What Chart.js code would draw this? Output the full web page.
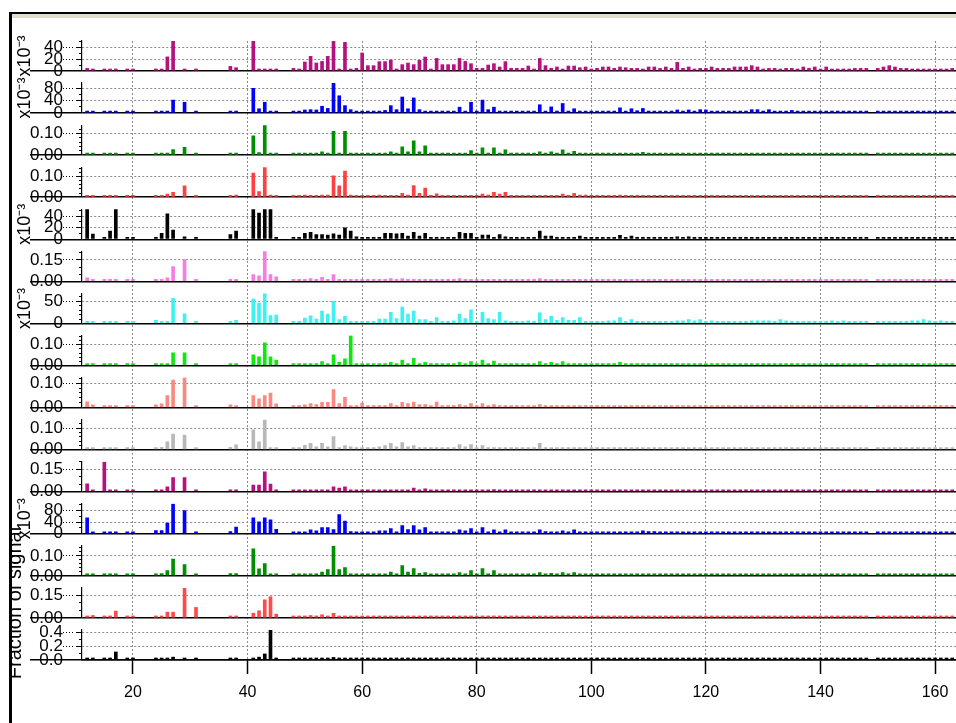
<!DOCTYPE html>
<html>
<head>
<meta charset="utf-8">
<title>Fraction of signal</title>
<script src="https://cdn.jsdelivr.net/npm/chart.js@4.4.1/dist/chart.umd.min.js"></script>
<style>
    html, body { margin: 0; padding: 0; background: #fff; overflow: hidden; }
    body { width: 956px; height: 723px; position: relative; font-family: "Liberation Sans", Arial, sans-serif; }
    #frameTop { position: absolute; left: 9px; top: 12px; width: 947px; height: 2px; background: #000; }
    #frameBand { position: absolute; left: 12px; top: 14px; width: 944px; height: 4px; background: #e2ddcc; }
    #frameLeft { position: absolute; left: 9px; top: 12px; width: 3px; height: 711px; background: #000; z-index: 3; }
    #chartBox { position: absolute; left: 12px; top: 18px; }
    #yTitleClip { position: absolute; left: 12px; top: 0; width: 40px; height: 723px; overflow: hidden; z-index: 2; }
    #yTitle {
        position: absolute; left: 0; top: 0; font-size: 20px; line-height: 1; white-space: nowrap; color: #000;
        transform-origin: 0 0; transform: translate(1.6px, 603px) rotate(-90deg) translate(-50%, -50%);
    }
</style>
</head>
<body>
<div id="frameTop"></div>
<div id="frameBand"></div>
<div id="frameLeft"></div>
<div id="chartBox"><canvas id="msChart" width="950" height="705" style="width:950px;height:705px"></canvas></div>
<div id="yTitleClip"><div id="yTitle">Fraction of signal</div></div>

<script>
// m/z
const mzValues = [12, 13, 15, 16, 17, 19, 20, 24, 25, 26, 27, 29, 31, 37, 38, 41, 42, 43, 44, 45,
    48, 49, 50, 51, 52, 53, 54, 55, 56, 57, 58, 59, 60, 61, 62, 63, 64, 65, 66, 67,
    68, 69, 70, 71, 72, 73, 74, 75, 76, 77, 78, 79, 80, 81, 82, 83, 84, 85, 86, 87,
    88, 89, 90, 91, 92, 93, 94, 95, 96, 97, 98, 99,
    100, 101, 102, 103, 104, 105, 106, 107, 108, 109, 110, 111, 112, 113, 114, 115, 116, 117, 118, 119,
    120, 121, 122, 123, 124, 125, 126, 127, 128, 129, 130, 131, 132, 133, 134, 135, 136, 137, 138, 139,
    140, 141, 142, 143, 144, 145, 146, 147, 148,
    150, 151, 152, 153, 154, 155, 156, 157, 158, 159, 160, 161, 162, 163];

// valeurs par panneau (haut -> bas)
const panel1 = [4.4, 1, 0.5, 0.5, 0.5, 0.5, 0.5, 0.5, 2.7, 23.5, 50, 0.5, 0.5, 7.7, 5.5, 50, 1, 1, 1, 2.7,
    4.4, 2.7, 15, 24.4, 13.3, 16, 24.4, 49.4, 1, 47.8, 1, 4.4, 30, 8.9, 8.9, 15.6, 15.6, 18.3, 3.3, 10.6,
    13.3, 10.6, 17.8, 23.3, 3.3, 21, 10.6, 10.6, 10.6, 21, 16, 12.2, 4.4, 4.4, 10, 12.2, 6.7, 15.6, 4.4, 4.4,
    4.4, 8.3, 2.2, 21, 8.9, 4.4, 6.7, 1, 8.3, 8.3, 5.5, 6.7,
    2.2, 4.4, 6.7, 6.7, 4.4, 6.7, 5.5, 4.4, 4.4, 2.2, 6.7, 6.7, 4.4, 6.7, 4.4, 14.4, 4.4, 6.7, 2.2, 4.4,
    4.4, 6.7, 4.4, 4.4, 4.4, 6.7, 6.7, 6.7, 8.9, 6.7, 3.3, 4.4, 4.4, 2.2, 4.4, 4.4, 2.2, 6.7, 4.4, 6.7,
    2.2, 6.7, 3.3, 3.3, 3.3, 3.3, 4.4, 4.4, 4.4,
    4.4, 6.7, 8.9, 6.7, 4.4, 4.4, 2.2, 3.3, 3.3, 2.2, 2.2, 3.3, 3.3, 4.4];
const panel2 = [1, 1, 1, 1, 1, 1, 1, 1, 1, 6, 42, 35, 1, 5, 1, 80, 14, 35, 1, 1,
    1, 1, 10, 11, 10, 22, 15, 97, 56, 24, 11, 2, 2, 2, 6.5, 6.5, 8.6, 24, 11, 52,
    14, 49, 11, 2, 2, 2, 2, 2, 2, 19, 6.5, 35, 6.5, 42, 11, 19, 2, 2, 2, 2,
    2, 6.5, 2, 27, 6.5, 20, 6.5, 31, 6.5, 14, 2, 2,
    2, 2, 2, 6.5, 6.5, 17, 6.5, 14, 7.6, 15, 6.5, 6.5, 2, 2, 2, 10, 6.5, 10, 6.5, 11,
    10, 2, 2, 2, 2, 2, 2, 6.5, 11, 11, 6.5, 11, 2, 6.5, 2, 8.6, 2, 2, 2, 2,
    2, 6.5, 6.5, 6.5, 2, 6.5, 2, 2, 2,
    2, 2, 6.5, 6.5, 2, 6.5, 2, 6.5, 2, 6.5, 2, 6.5, 2, 2];
const panel3 = [.002, .002, .002, .002, .002, .002, .002, .002, .002, .002, .026, .036, .002, .002, .002, .089, .012, .138, .008, .002,
    .002, .002, .004, .006, .006, .015, .006, .109, .009, .109, .002, .002, .002, .002, .002, .002, .002, .015, .002, .038,
    .015, .066, .015, .043, .002, .002, .002, .002, .002, .009, .002, .021, .002, .034, .009, .034, .009, .025, .002, .002,
    .002, .002, .002, .015, .002, .015, .009, .025, .009, .018, .004, .002,
    .002, .002, .002, .002, .002, .006, .002, .009, .002, .013, .002, .009, .002, .002, .002, .002, .002, .002, .002, .009,
    .002, .009, .002, .009, .002, .002, .002, .002, .002, .002, .002, .002, .002, .009, .002, .002, .002, .002, .002, .002,
    .002, .002, .002, .002, .002, .002, .002, .002, .002,
    .002, .002, .002, .002, .002, .002, .002, .002, .002, .002, .002, .002, .002, .002];
const panel4 = [.002, .002, .002, .002, .002, .002, .002, .002, .002, .015, .023, .055, .002, .002, .01, .116, .027, .144, .01, .002,
    .002, .002, .01, .006, .003, .01, .01, .103, .055, .126, .01, .002, .002, .002, .002, .01, .002, .004, .002, .019,
    .01, .056, .019, .044, .002, .016, .002, .002, .002, .002, .002, .002, .002, .015, .01, .024, .015, .024, .002, .002,
    .002, .002, .002, .002, .002, .002, .002, .015, .002, .019, .01, .01,
    .002, .002, .002, .002, .002, .01, .002, .002, .002, .008, .002, .008, .002, .002, .002, .002, .002, .002, .002, .002,
    .002, .002, .002, .002, .002, .002, .002, .002, .002, .002, .002, .002, .002, .002, .002, .002, .002, .002, .002, .002,
    .002, .002, .002, .002, .002, .002, .002, .002, .002,
    .002, .002, .002, .002, .002, .002, .002, .002, .002, .002, .002, .002, .002, .002];
const panel5 = [52, 9, 1, 14.4, 52, 1, 1, 1, 10.5, 44, 16, 4.4, 1, 8.3, 14.4, 52, 45.5, 52, 52, 1,
    2, 3.3, 10.5, 12, 8.3, 8.3, 7.2, 9.4, 7.2, 20, 14.4, 4.4, 1, 3.3, 1, 1, 10.5, 10.5, 9.4, 10.5,
    5.5, 12, 5.5, 10.5, 3.3, 1, 1, 1, 1, 12, 10.5, 10.5, 1, 7.2, 7.2, 1, 8.3, 4.4, 1, 3.3,
    1, 3.3, 1, 14.4, 5.5, 5.5, 3.3, 3.3, 3.3, 1, 5.5, 3.3,
    1, 1, 3.3, 3.3, 3.3, 6.7, 3.3, 5.5, 1, 3.3, 1, 3.3, 1, 3.3, 1, 4.4, 3.3, 4.4, 3.3, 3.3,
    1, 3.3, 1, 3.3, 1, 3.3, 3.3, 3.3, 3.3, 3.3, 3.3, 1, 3.3, 1, 3.3, 1, 3.3, 1, 3.3, 1,
    3.3, 1, 1, 3.3, 1, 1, 1, 3.3, 1,
    3.3, 3.3, 3.3, 1, 3.3, 1, 3.3, 3.3, 3.3, 1, 3.3, 1, 3.3, 1];
const panel6 = [.025, .01, .003, .003, .003, .003, .003, .003, .01, .025, .103, .152, .003, .01, .01, .047, .039, .21, .047, .032,
    .003, .007, .015, .019, .009, .028, .005, .047, .009, .005, .003, .009, .003, .003, .003, .003, .003, .019, .003, .019,
    .003, .009, .003, .009, .003, .009, .003, .003, .003, .019, .003, .014, .003, .009, .003, .009, .003, .003, .003, .003,
    .003, .003, .003, .019, .003, .009, .003, .009, .003, .009, .003, .003,
    .003, .003, .003, .003, .003, .009, .003, .009, .003, .009, .003, .003, .003, .003, .003, .009, .003, .003, .003, .003,
    .003, .003, .003, .003, .003, .003, .003, .003, .003, .003, .003, .003, .003, .003, .003, .003, .003, .003, .003, .003,
    .003, .003, .003, .003, .003, .003, .003, .003, .003,
    .003, .003, .003, .003, .003, .003, .003, .003, .003, .003, .003, .003, .003, .003];
const panel7 = [2, 2, 2, 2, 2, 2, 2, 7, 2, 4, 57, 22, 2, 3, 7, 55, 46, 68, 18, 19,
    2, 2, 12, 17, 10, 28, 21, 50, 9, 16, 1, 1, 2, 3, 3, 10, 10, 25, 11, 37,
    21, 28, 9, 9, 3, 13, 3, 3, 6, 21, 11, 31, 4.5, 25, 11, 9, 25, 6, 3, 3,
    1, 6, 4.5, 24, 9, 16, 7, 13, 7, 7, 13, 1,
    2, 1, 3, 6, 6, 13, 4.5, 9, 4.5, 4.5, 3, 1, 1, 3, 3, 6, 6, 9, 6, 9,
    3, 6, 3, 3, 1, 3, 3, 3, 6, 6, 6, 6, 3, 9, 6, 3, 3, 1, 3, 3,
    3, 3, 6, 3, 6, 3, 3, 3, 3,
    1, 3, 3, 3, 3, 3, 6, 6, 9, 6, 3, 6, 3, 3];
const panel8 = [.002, .002, .002, .002, .002, .002, .002, .002, .002, .002, .061, .061, .002, .002, .002, .052, .042, .11, .042, .026,
    .002, .004, .006, .008, .008, .019, .002, .052, .015, .032, .145, .008, .002, .002, .002, .002, .008, .015, .008, .026,
    .008, .035, .008, .015, .002, .002, .002, .002, .002, .015, .002, .019, .004, .026, .008, .021, .008, .008, .002, .002,
    .002, .002, .002, .019, .002, .015, .008, .019, .008, .008, .008, .002,
    .002, .002, .002, .002, .002, .015, .002, .008, .002, .008, .002, .008, .002, .002, .002, .008, .002, .008, .002, .008,
    .002, .008, .002, .002, .002, .002, .002, .002, .008, .002, .002, .008, .002, .002, .002, .002, .002, .002, .002, .002,
    .002, .002, .002, .002, .002, .002, .002, .002, .002,
    .002, .002, .002, .002, .002, .002, .002, .002, .002, .002, .002, .002, .002, .002];
const panel9 = [.024, .011, .003, .003, .003, .003, .003, .011, .015, .049, .113, .123, .003, .011, .003, .049, .036, .049, .059, .015,
    .003, .004, .011, .016, .012, .022, .022, .074, .016, .042, .003, .003, .018, .008, .003, .008, .008, .016, .003, .022,
    .016, .023, .012, .012, .003, .023, .008, .003, .003, .012, .008, .016, .003, .016, .008, .012, .003, .003, .003, .003,
    .003, .008, .003, .012, .008, .008, .008, .008, .008, .008, .003, .003,
    .003, .003, .003, .003, .003, .008, .003, .003, .003, .003, .003, .003, .003, .003, .003, .008, .003, .008, .003, .003,
    .003, .003, .003, .003, .003, .003, .003, .003, .008, .008, .003, .008, .003, .003, .003, .003, .003, .003, .003, .003,
    .003, .003, .003, .003, .003, .003, .003, .008, .003,
    .003, .003, .003, .003, .003, .003, .003, .003, .003, .003, .003, .003, .003, .003];
const panel10 = [.003, .006, .003, .003, .003, .003, .003, .003, .011, .036, .072, .067, .003, .011, .022, .092, .036, .139, .003, .003,
    .003, .003, .02, .029, .013, .029, .013, .06, .003, .019, .013, .003, .003, .003, .006, .013, .019, .029, .013, .033,
    .013, .019, .006, .006, .003, .003, .003, .006, .006, .024, .013, .024, .003, .019, .006, .003, .003, .003, .003, .003,
    .003, .006, .003, .029, .006, .006, .006, .006, .006, .006, .003, .003,
    .003, .003, .003, .003, .003, .006, .003, .003, .003, .006, .003, .003, .003, .003, .003, .006, .003, .006, .003, .006,
    .003, .003, .003, .003, .003, .003, .003, .003, .006, .006, .003, .003, .003, .003, .003, .003, .003, .003, .003, .003,
    .003, .003, .003, .003, .003, .003, .003, .003, .003,
    .003, .003, .003, .003, .003, .003, .003, .003, .003, .003, .003, .003, .003, .003];
const panel11 = [.053, .004, .2, .004, .004, .004, .004, .004, .004, .033, .095, .095, .004, .004, .004, .044, .044, .133, .051, .004,
    .004, .004, .004, .004, .004, .011, .004, .033, .024, .033, .004, .004, .004, .004, .004, .004, .004, .004, .004, .011,
    .004, .024, .011, .02, .004, .004, .004, .004, .004, .004, .004, .004, .004, .011, .004, .015, .004, .004, .004, .004,
    .004, .004, .004, .004, .004, .004, .004, .004, .004, .006, .006, .004,
    .004, .004, .004, .004, .004, .004, .004, .004, .004, .006, .004, .006, .004, .004, .004, .004, .004, .004, .004, .004,
    .004, .004, .004, .004, .004, .004, .004, .004, .004, .004, .004, .004, .004, .004, .004, .004, .004, .004, .004, .004,
    .004, .004, .004, .004, .004, .004, .004, .004, .004,
    .004, .004, .004, .004, .004, .004, .004, .004, .004, .004, .004, .004, .004, .004];
const panel12 = [55, 7, 2, 2, 2, 2, 2, 11.4, 11.4, 36.6, 103, 80, 2, 8, 23, 55, 41, 55, 48, 15,
    2, 2, 7, 13.5, 10, 21, 21, 14.6, 66, 44, 8, 2, 2, 2, 5.6, 10, 10, 18, 3, 28,
    14.6, 28, 13.5, 21, 2, 2, 5.6, 2, 5.6, 13.5, 10, 18, 2, 21, 5.6, 13.5, 2, 13.5, 2, 2,
    2, 2, 2, 13.5, 8, 5.6, 5.6, 10, 5.6, 13.5, 2, 5.6,
    2, 2, 2, 5.6, 5.6, 5.6, 2, 5.6, 5.6, 10, 8, 8, 2, 5.6, 2, 5.6, 2, 2, 2, 2,
    2, 5.6, 2, 5.6, 2, 5.6, 2, 5.6, 2, 2, 2, 2, 2, 2, 2, 5.6, 2, 2, 2, 2,
    2, 2, 2, 2, 2, 2, 2, 2, 2,
    2, 2, 2, 2, 2, 2, 2, 2, 2, 2, 2, 2, 2, 2];
const panel13 = [.002, .002, .002, .002, .002, .002, .002, .002, .011, .027, .084, .056, .002, .011, .011, .135, .035, .061, .002, .002,
    .002, .002, .006, .006, .006, .019, .031, .15, .031, .042, .01, .002, .006, .002, .002, .002, .01, .019, .01, .052,
    .019, .037, .013, .016, .002, .01, .002, .002, .002, .016, .01, .026, .002, .037, .01, .026, .01, .01, .002, .002,
    .002, .002, .002, .016, .002, .013, .002, .016, .01, .016, .01, .002,
    .002, .002, .002, .002, .002, .002, .002, .002, .002, .008, .002, .002, .002, .002, .002, .008, .002, .002, .002, .002,
    .002, .002, .002, .002, .002, .002, .002, .002, .002, .002, .002, .002, .002, .002, .002, .002, .002, .002, .002, .002,
    .002, .002, .002, .002, .002, .002, .002, .002, .002,
    .002, .002, .002, .002, .002, .002, .002, .002, .002, .002, .002, .002, .002, .002];
const panel14 = [.003, .016, .003, .009, .045, .003, .003, .003, .009, .038, .038, .197, .069, .009, .009, .031, .047, .119, .139, .025,
    .003, .003, .009, .016, .012, .021, .012, .03, .003, .003, .003, .012, .012, .003, .003, .003, .012, .012, .012, .003,
    .012, .003, .003, .003, .003, .012, .003, .003, .003, .012, .012, .012, .003, .003, .012, .003, .012, .003, .003, .003,
    .003, .003, .003, .012, .003, .003, .003, .003, .003, .003, .003, .003,
    .003, .003, .003, .003, .003, .003, .003, .003, .003, .003, .003, .003, .003, .003, .003, .003, .003, .003, .003, .003,
    .003, .003, .003, .003, .003, .003, .003, .003, .003, .003, .003, .003, .003, .003, .003, .003, .003, .003, .003, .003,
    .003, .003, .003, .003, .003, .003, .003, .003, .003,
    .003, .003, .003, .003, .003, .003, .003, .003, .003, .003, .003, .003, .003, .003];
const panel15 = [.023, .005, .005, .018, .115, .005, .005, .005, .005, .023, .041, .018, .005, .005, .018, .023, .041, .087, .43, .023,
    .005, .005, .01, .01, .005, .018, .005, .037, .005, .012, .005, .005, .005, .005, .005, .005, .005, .005, .005, .005,
    .005, .005, .005, .005, .005, .005, .005, .005, .005, .005, .005, .005, .005, .005, .005, .005, .005, .005, .005, .005,
    .005, .005, .005, .005, .005, .005, .005, .005, .005, .005, .005, .005,
    .005, .005, .005, .005, .005, .005, .005, .005, .005, .005, .005, .005, .005, .005, .005, .005, .005, .005, .005, .005,
    .005, .005, .005, .005, .005, .005, .005, .005, .005, .005, .005, .005, .005, .005, .005, .005, .005, .005, .005, .005,
    .005, .005, .005, .005, .005, .005, .005, .005, .005,
    .005, .005, .005, .005, .005, .005, .005, .005, .005, .005, .005, .005, .005, .005];

const panels = [panel1, panel2, panel3, panel4, panel5, panel6, panel7, panel8,
    panel9, panel10, panel11, panel12, panel13, panel14, panel15];
const panelColors = ["#b5127f", "#0000ff", "#008f00", "#ff4040", "#000000", "#f37fe0", "#3ff2f2", "#12e612",
    "#fa8a80", "#b8b8b8", "#b5127f", "#0000ff", "#008f00", "#ff4a4a", "#000000"];
const minorSteps = [10, 20, 0.02, 0.02, 10, 0.05, 10, 0.02, 0.02, 0.02, 0.05, 20, 0.02, 0.05, 0.1];
const majorSteps = [20, 40, 0.1, 0.1, 20, 0.15, 50, 0.1, 0.1, 0.1, 0.15, 40, 0.1, 0.15, 0.2];
const labelDigits = [0, 0, 2, 2, 0, 2, 0, 2, 2, 2, 2, 0, 2, 2, 1];
const scaledPanels = [true, true, false, false, true, false, true, false, false, false, false, true, false, false, false];
const mzMin = 11.1;
const mzMax = 164.7;

Chart.defaults.font.family = '"Liberation Sans", Arial, Helvetica, sans-serif';
Chart.defaults.font.size = 16;
Chart.defaults.color = "#000";

const isMultiple = (v, step) => Math.abs(v / step - Math.round(v / step)) < 1e-6;
const tickValue = c => (c.tick ? c.tick.value : 0);

panels.forEach((p, k) => {
    if (p.length !== mzValues.length) console.error("panel" + (k + 1) + " : " + p.length + " valeurs");
});

// Axes : x en bas, un axe y empilé par panneau avec un petit axe vide entre deux
const scales = {
    x: {
        type: "linear", position: "bottom", min: mzMin, max: mzMax, offset: false,
        afterFit: s => { s.height = 63; },
        border: { color: "#000", width: 1.5, dash: c => (c.type === "tick" ? [2, 2] : []) },
        grid: { offset: false, color: "#8c8c8c", lineWidth: 1, tickColor: "#000", tickWidth: 1.5, tickLength: 14 },
        ticks: { stepSize: 20, includeBounds: false, padding: 9, maxRotation: 0, autoSkip: false }
    }
};

// trait de graduation long (52 px) : le zéro traverse l'étiquette, le reste est masqué par le tiret
const TICK_ZERO = [];
const TICK_MAJOR = [0, 33, 1, 2, 1, 2, 1, 2, 1, 3, 6, 0];
const TICK_MINOR = [0, 49, 3, 0];

let order = 100;
panels.forEach((vals, k) => {
    if (k > 0) {
        scales["gap" + k] = {
            type: "linear", display: false, position: "left", stack: "panels",
            stackWeight: 12.07, weight: order--
        };
    }
    const minor = minorSteps[k];
    const major = majorSteps[k];
    scales["y" + k] = {
        type: "linear", position: "left", stack: "panels", stackWeight: 30, weight: order--,
        min: 0, max: Math.max(...vals),
        afterFit: s => { s.width = 70; },
        border: { display: true, color: "#000", width: 1.2, dash: c => (tickValue(c) !== 0 ? [2, 2] : []) },
        grid: {
            color: c => {
                const v = tickValue(c);
                if (v === 0) return "#000";
                return isMultiple(v, major) ? "#8c8c8c" : "rgba(0,0,0,0)";
            },
            lineWidth: c => (tickValue(c) === 0 ? 1.5 : 1),
            tickColor: "#000",
            tickWidth: c => (tickValue(c) === 0 ? 1.5 : 1),
            tickLength: 52,
            tickBorderDash: c => {
                const v = tickValue(c);
                if (v === 0) return TICK_ZERO;
                return isMultiple(v, major) ? TICK_MAJOR : TICK_MINOR;
            }
        },
        ticks: {
            stepSize: minor, includeBounds: false, autoSkip: false, padding: -33,
            font: { size: 17 },
            callback: v => (isMultiple(v, major) ? v.toFixed(labelDigits[k]) : "")
        },
        title: {
            display: scaledPanels[k], text: "x10⁻³", color: "#000",
            font: { size: 18, lineHeight: 1.2 }, padding: { top: 2.4, bottom: 0 }
        }
    };
});

const datasets = panels.map((vals, k) => ({
    label: "panel" + (k + 1),
    data: mzValues.map((m, i) => ({ x: m, y: vals[i] })),
    backgroundColor: panelColors[k],
    borderWidth: 0,
    yAxisID: "y" + k,
    barThickness: 3,
    minBarLength: 2,
    grouped: false
}));

new Chart(document.getElementById("msChart"), {
    type: "bar",
    data: { datasets },
    options: {
        responsive: false,
        animation: false,
        devicePixelRatio: 1,
        layout: { padding: { top: 23, left: 0, right: 0, bottom: 0 } },
        plugins: { legend: { display: false }, tooltip: { enabled: false } },
        scales
    }
});
</script>
</body>
</html>
